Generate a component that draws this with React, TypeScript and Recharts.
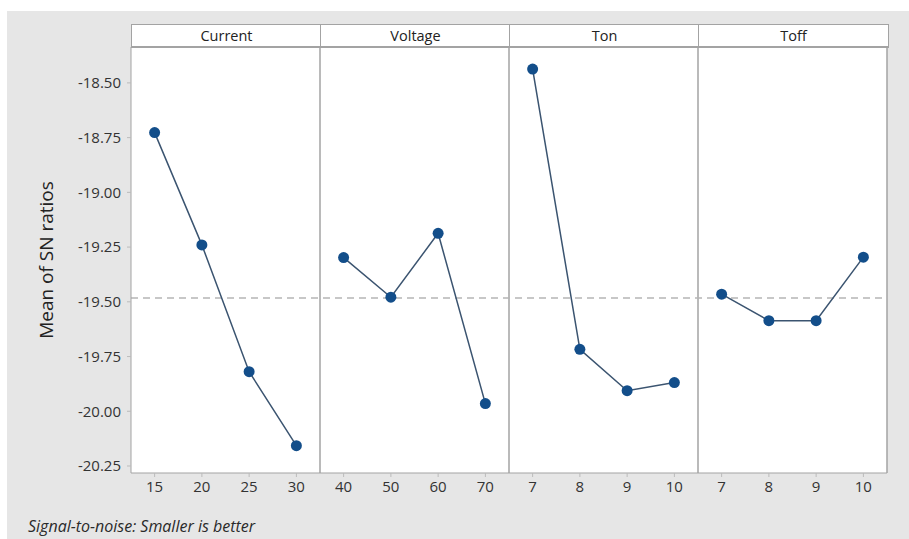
import React from 'react';
import { LineChart, Line, XAxis, YAxis, ReferenceLine } from 'recharts';

const factors = ['Current', 'Voltage', 'Ton', 'Toff'];
const currentLevels = ['15', '20', '25', '30'];
const voltageLevels = ['40', '50', '60', '70'];
const tonLevels = ['7', '8', '9', '10'];
const toffLevels = ['7', '8', '9', '10'];

const currentSN = [-18.727, -19.24, -19.819, -20.157];
const voltageSN = [-19.298, -19.479, -19.187, -19.965];
const tonSN = [-18.437, -19.717, -19.906, -19.869];
const toffSN = [-19.465, -19.586, -19.586, -19.296];

const overallMean = -19.483;
const yTicks = [-20.25, -20.0, -19.75, -19.5, -19.25, -19.0, -18.75, -18.5];

const levelSets = [currentLevels, voltageLevels, tonLevels, toffLevels];
const seriesSets = [currentSN, voltageSN, tonSN, toffSN];

// each panel spans 4 units on a shared numeric x axis
const panels = seriesSets.map((vals, p) =>
  vals.map((v, i) => ({ x: p * 4 + i + 0.5, y: v })),
);
const xTicks = levelSets.flatMap((lv, p) => lv.map((_, i) => p * 4 + i + 0.5));
const xLabels = levelSets.flat();

const FONT = '"Open Sans", "Noto Sans", sans-serif';
const LINE = '#3b5470';
const DOT = '#134e8a';
const BORDER = '#a3a3a3';

const PLOT = { left: 131, top: 47, right: 887, bottom: 473 };
const PANEL_W = (PLOT.right - PLOT.left) / 4;

export default function App() {
  return (
    <div
      style={{
        position: 'absolute', left: 0, top: 0, width: 909, height: 539,
        background: '#fff', overflow: 'hidden', fontFamily: FONT,
      }}
    >
      <div style={{ position: 'absolute', left: 7, top: 11, right: 0, bottom: 0, background: '#e6e6e6' }} />
      <div
        style={{
          position: 'absolute', left: PLOT.left, top: PLOT.top,
          width: PLOT.right - PLOT.left, height: PLOT.bottom - PLOT.top, background: '#fff',
        }}
      />
      {factors.map((f, p) => (
        <div
          key={f}
          style={{
            position: 'absolute', left: PLOT.left + p * PANEL_W, top: 24,
            width: PANEL_W, height: 21, background: '#fff',
            borderTop: `1px solid ${BORDER}`, borderBottom: `2px solid ${BORDER}`,
            borderLeft: `1px solid ${BORDER}`, borderRight: p === 3 ? `1px solid ${BORDER}` : 'none',
            boxSizing: 'content-box', textAlign: 'center', fontSize: 14.5, lineHeight: '21px', color: '#222',
          }}
        >
          {f}
        </div>
      ))}
      <div style={{ position: 'absolute', left: 0, top: 0 }}>
        <LineChart
          width={909}
          height={539}
          margin={{ top: PLOT.top, right: 909 - PLOT.right, bottom: 36, left: 0 }}
        >
          <XAxis
            type="number"
            dataKey="x"
            domain={[0, 16]}
            ticks={xTicks}
            interval={0}
            tickFormatter={(v: number) => xLabels[xTicks.indexOf(v)]}
            tick={{ fontSize: 15, fill: '#333', fontFamily: FONT }}
            tickSize={4}
            tickMargin={4}
            tickLine={{ stroke: '#bbb' }}
            axisLine={{ stroke: BORDER }}
            height={30}
          />
          <YAxis
            type="number"
            domain={[-20.282, -18.336]}
            allowDataOverflow
            ticks={yTicks}
            interval={0}
            tickFormatter={(v: number) => v.toFixed(2)}
            tick={{ fontSize: 15, fill: '#333', fontFamily: FONT }}
            tickSize={4}
            tickMargin={6}
            tickLine={{ stroke: '#bbb' }}
            axisLine={{ stroke: BORDER }}
            width={131}
            label={{
              value: 'Mean of SN ratios',
              angle: -90,
              position: 'insideLeft',
              offset: 46,
              style: { textAnchor: 'middle', fontSize: 19, fill: '#222', fontFamily: FONT },
            }}
          />
          {[4, 8, 12, 16].map((x) => (
            <ReferenceLine key={x} x={x} stroke={BORDER} strokeWidth={1.5} />
          ))}
          <ReferenceLine y={overallMean} stroke="#b5b5b5" strokeWidth={1.5} strokeDasharray="7 5" />
          {panels.map((d, p) => (
            <Line
              key={factors[p]}
              data={d}
              dataKey="y"
              stroke={LINE}
              strokeWidth={1.5}
              dot={{ r: 5.5, fill: DOT, stroke: DOT, strokeWidth: 0 }}
              activeDot={false}
              isAnimationActive={false}
            />
          ))}
        </LineChart>
      </div>
      <div
        style={{
          position: 'absolute', left: 28, top: 515, fontSize: 16, lineHeight: '22px',
          fontStyle: 'italic', color: '#2a2a2a', whiteSpace: 'nowrap',
        }}
      >
        Signal-to-noise: Smaller is better
      </div>
    </div>
  );
}
